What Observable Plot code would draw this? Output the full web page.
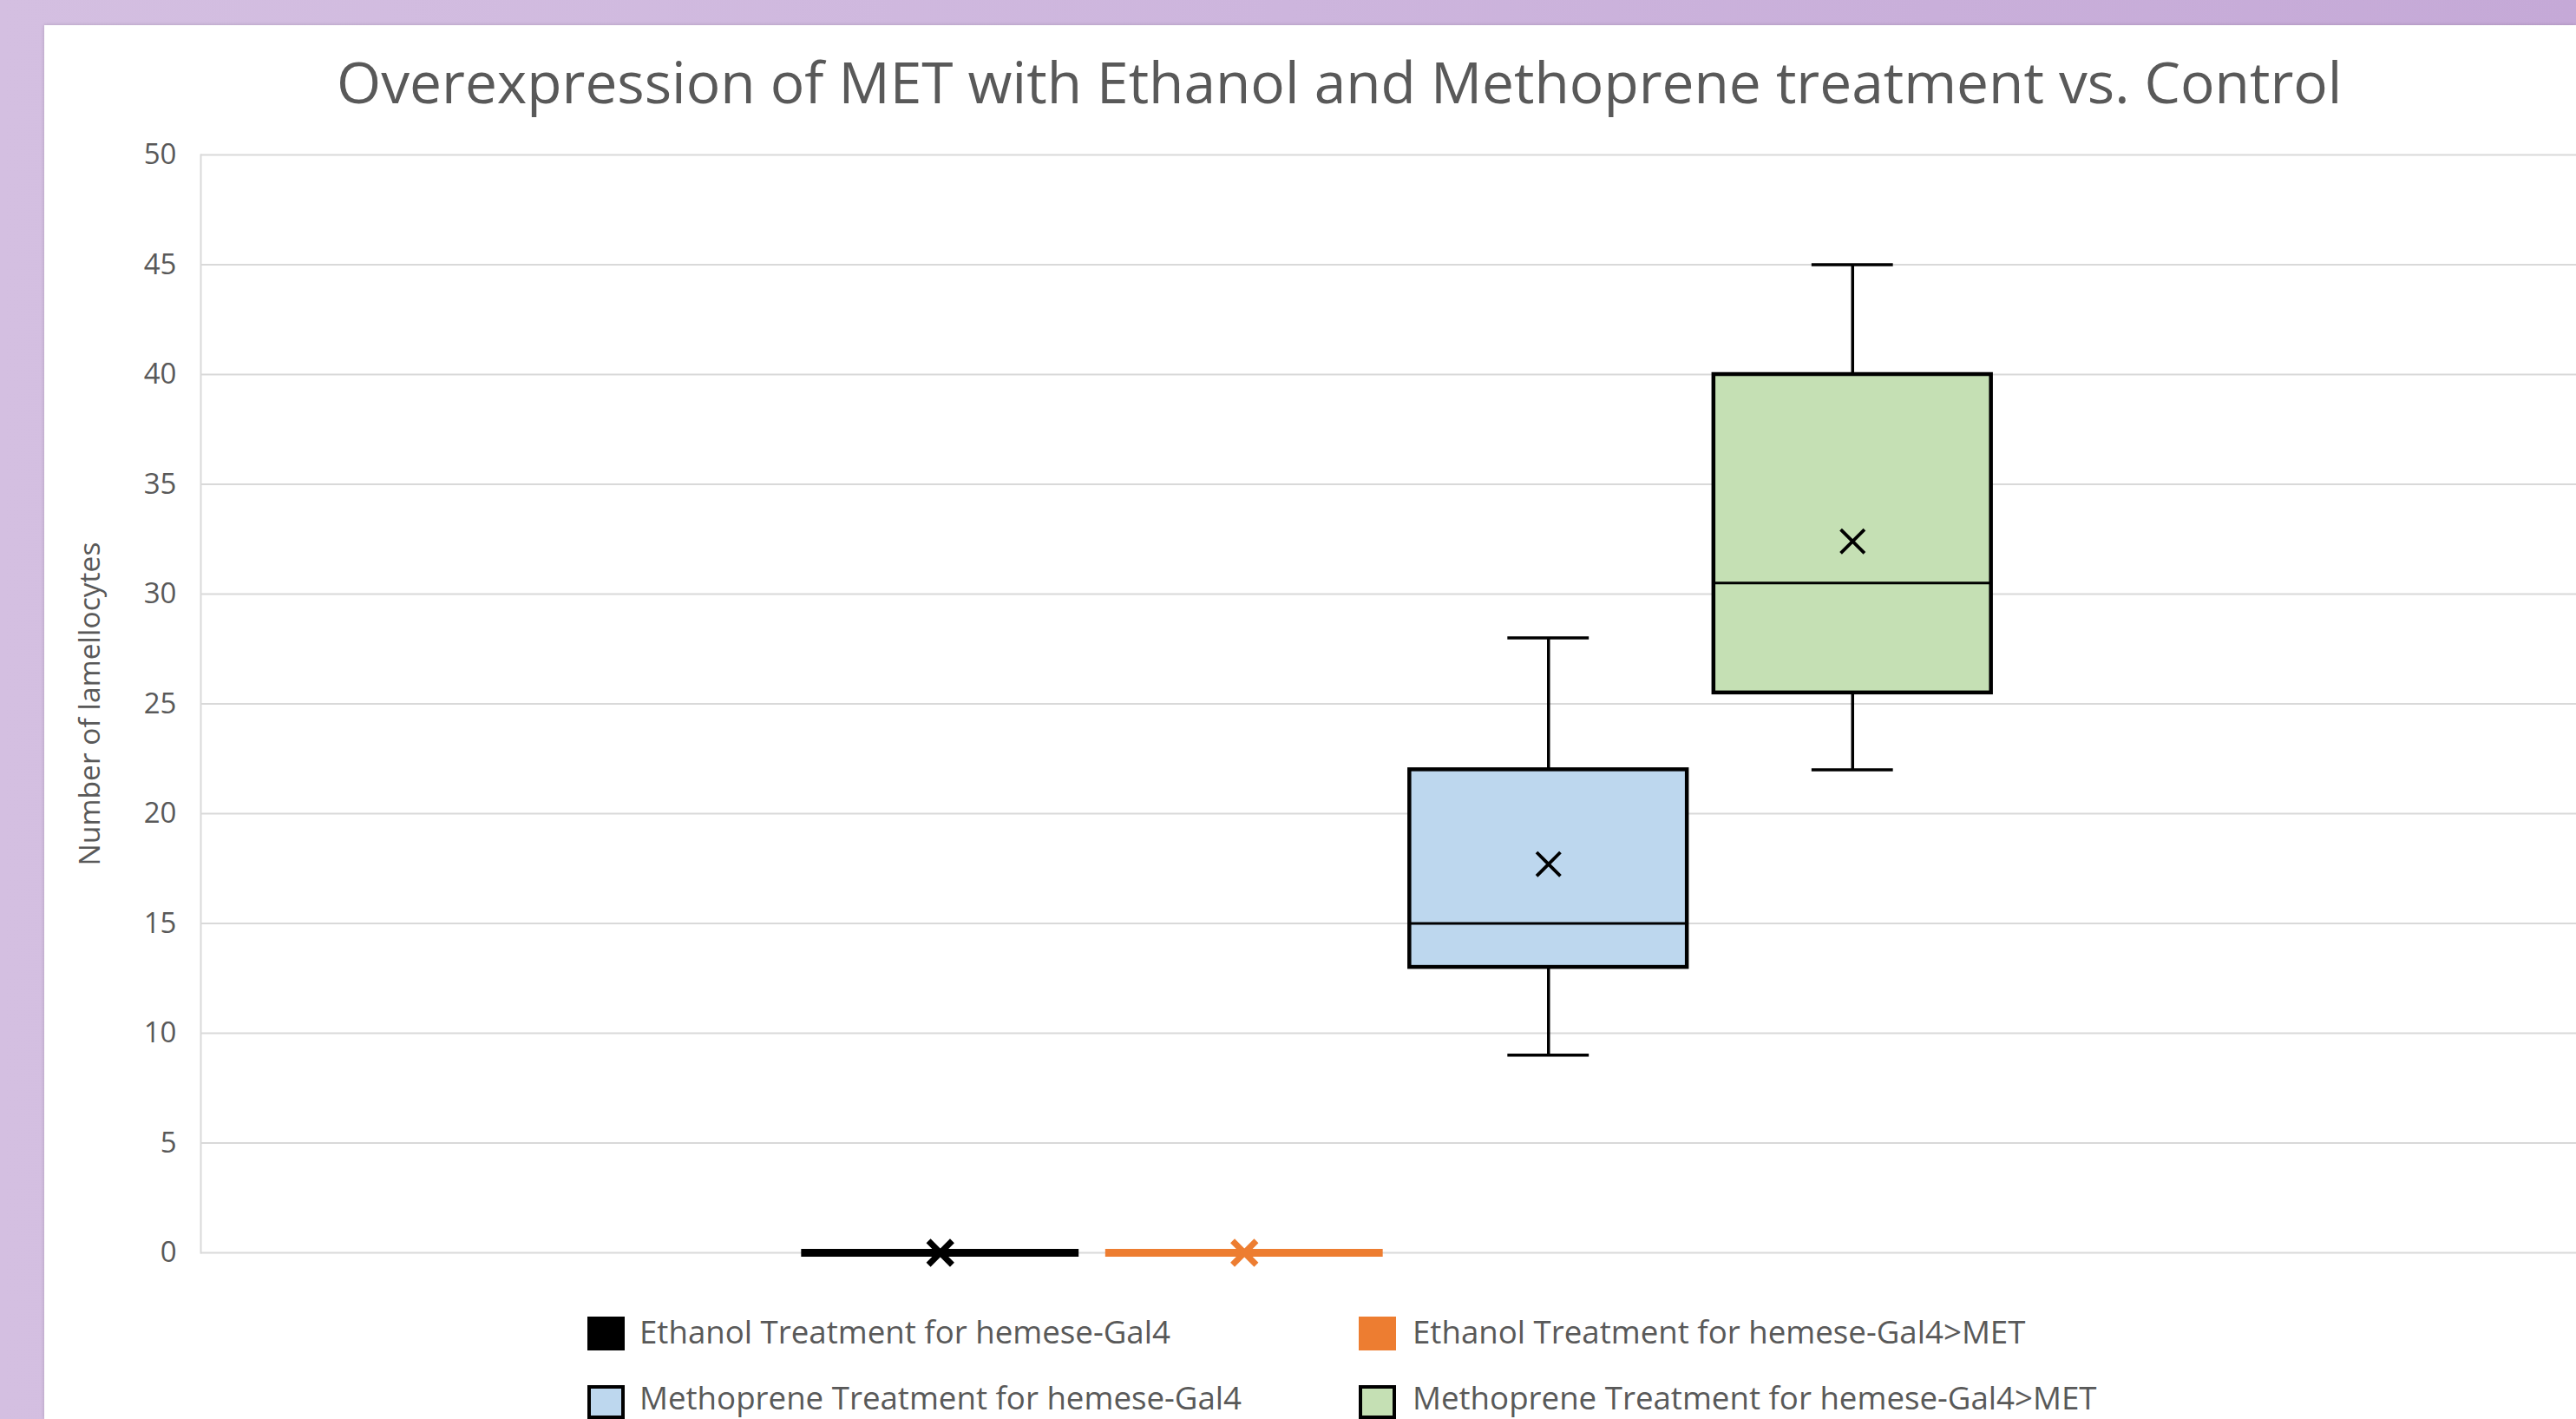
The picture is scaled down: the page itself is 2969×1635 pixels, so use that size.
<!DOCTYPE html>
<html>
<head>
<meta charset="utf-8">
<script src="https://cdn.jsdelivr.net/npm/d3@7"></script>
<script src="https://cdn.jsdelivr.net/npm/@observablehq/plot@0.6"></script>
<style>
html, body { margin: 0; padding: 0; width: 2969px; height: 1635px; overflow: hidden; }
body { background: linear-gradient(90deg, #d4bfe1 0%, #cdb5dd 50%, #c5a9d7 100%); font-family: "Open Sans", sans-serif; }
#panel { position: absolute; left: 51px; top: 29px; width: 2918px; height: 1606px; background: #ffffff; box-shadow: 0 0 4px rgba(0,0,0,0.18); overflow: hidden; }
#chart { position: absolute; left: 0; top: 0; }
.txt { position: absolute; white-space: nowrap; color: #595959; font-family: "Open Sans", sans-serif; }
.sw { position: absolute; box-sizing: border-box; }
</style>
</head>
<body>
<div id="panel">
  <div id="chart"></div>
  <div id="title" class="txt"></div>
  <div id="legend"></div>
</div>
<script>
// ---- data ----
const chartTitle = "Overexpression of MET with Ethanol and Methoprene treatment vs. Control";
const yLabel = "Number of lamellocytes";
const series = [
  "Ethanol Treatment for hemese-Gal4",
  "Ethanol Treatment for hemese-Gal4>MET",
  "Methoprene Treatment for hemese-Gal4",
  "Methoprene Treatment for hemese-Gal4>MET"
];
const mins    = [0, 0, 9, 22];
const q1s     = [0, 0, 13, 25.5];
const medians = [0, 0, 15, 30.5];
const q3s     = [0, 0, 22, 40];
const maxs    = [0, 0, 28, 45];
const means   = [0, 0, 17.7, 32.4];
const yTicks  = [0, 5, 10, 15, 20, 25, 30, 35, 40, 45, 50];

// ---- styles ----
const seriesColors = ["#000000", "#ED7D31", "#BDD7EE", "#C5E0B4"];
const legendBorders = [null, null, "#000000", "#000000"];
const textColor = "#595959";
const gridColor = "#d9d9d9";

const stats = series.map((s, i) => ({
  series: s, min: mins[i], q1: q1s[i], median: medians[i], q3: q3s[i], max: maxs[i], mean: means[i]
}));
const boxed = stats.filter(d => d.q3 > d.q1);
const flat = stats.filter(d => d.q3 === d.q1);

function fitFont(text, target, family) {
  const c = document.createElement("canvas").getContext("2d");
  c.font = `100px ${family}`;
  return 100 * target / c.measureText(text).width;
}
const FAM = '"Open Sans"';
const ASC = 1.069, DESC = 0.293;
function topFor(baseline, F) { return baseline - (F * (1 - (ASC + DESC)) / 2 + ASC * F); }

const W = 2918, H = 1450;
const tickFont = 33;
const ylabFont = fitFont(yLabel, 373, FAM);

const chart = Plot.plot({
  width: W, height: H,
  marginLeft: 180, marginRight: 0, marginTop: 149, marginBottom: 36,
  style: { fontFamily: "Open Sans", fontSize: tickFont + "px", color: textColor, background: "transparent", overflow: "visible" },
  x: { type: "band", domain: series, range: [857, 2259], paddingInner: 0.0875, paddingOuter: 0.04375, round: false, axis: null },
  y: { domain: [0, 50], ticks: yTicks, axis: null },
  color: { domain: series, range: seriesColors },
  marks: [
    Plot.gridY(yTicks, { stroke: gridColor, strokeOpacity: 1, strokeWidth: 2 }),
    Plot.frame({ anchor: "left", stroke: gridColor, strokeOpacity: 1, strokeWidth: 2 }),
    Plot.axisY(yTicks, { tickSize: 0, tickPadding: 28, fill: textColor, fontSize: tickFont, label: null }),
    Plot.ruleX(boxed, { x: "series", y1: "min", y2: "q1", stroke: "#000", strokeWidth: 3.5 }),
    Plot.ruleX(boxed, { x: "series", y1: "q3", y2: "max", stroke: "#000", strokeWidth: 3.5 }),
    Plot.tickY(boxed, { x: "series", y: "min", insetLeft: 113, insetRight: 113, stroke: "#000", strokeWidth: 3.5 }),
    Plot.tickY(boxed, { x: "series", y: "max", insetLeft: 113, insetRight: 113, stroke: "#000", strokeWidth: 3.5 }),
    Plot.barY(boxed, { x: "series", y1: "q1", y2: "q3", fill: "series", stroke: "#000", strokeWidth: 4.5 }),
    Plot.tickY(boxed, { x: "series", y: "median", stroke: "#000", strokeWidth: 3 }),
    Plot.dot(boxed, { x: "series", y: "mean", symbol: "times", r: 12.5, stroke: "#000", strokeWidth: 3.8 }),
    Plot.tickY(flat, { x: "series", y: "median", stroke: "series", strokeWidth: 9 }),
    Plot.dot(flat, { x: "series", y: "mean", symbol: "times", r: 12.5, stroke: "series", strokeWidth: 7 }),
    Plot.text([yLabel], { text: d => d, frameAnchor: "left", rotate: -90, dx: -127, textAnchor: "middle", fill: textColor, fontSize: ylabFont })
  ]
});
document.getElementById("chart").appendChild(chart);

// ---- title ----
const tF = fitFont(chartTitle, 2312, FAM);
const title = document.getElementById("title");
title.textContent = chartTitle;
title.style.fontSize = tF + "px";
title.style.lineHeight = tF + "px";
title.style.left = "337px";
title.style.top = topFor(119 - 29, tF) + "px";

// ---- legend ----
const lF = fitFont(series[0], 612, FAM);
const legend = document.getElementById("legend");
const colText = [686, 1577], colSw = [626, 1515];
const rowBase = [1520, 1596], rowSwTop = [1488, 1567];
series.forEach((s, i) => {
  const col = i % 2, row = Math.floor(i / 2);
  const sw = document.createElement("div");
  sw.className = "sw";
  sw.style.left = colSw[col] + "px";
  sw.style.top = rowSwTop[row] + "px";
  sw.style.width = "43px";
  sw.style.height = "39px";
  sw.style.background = seriesColors[i];
  if (legendBorders[i]) sw.style.border = `4px solid ${legendBorders[i]}`;
  legend.appendChild(sw);
  const t = document.createElement("div");
  t.className = "txt";
  t.textContent = s;
  t.style.fontSize = lF + "px";
  t.style.lineHeight = lF + "px";
  t.style.left = colText[col] + "px";
  t.style.top = topFor(rowBase[row], lF) + "px";
  legend.appendChild(t);
});
</script>
</body>
</html>
